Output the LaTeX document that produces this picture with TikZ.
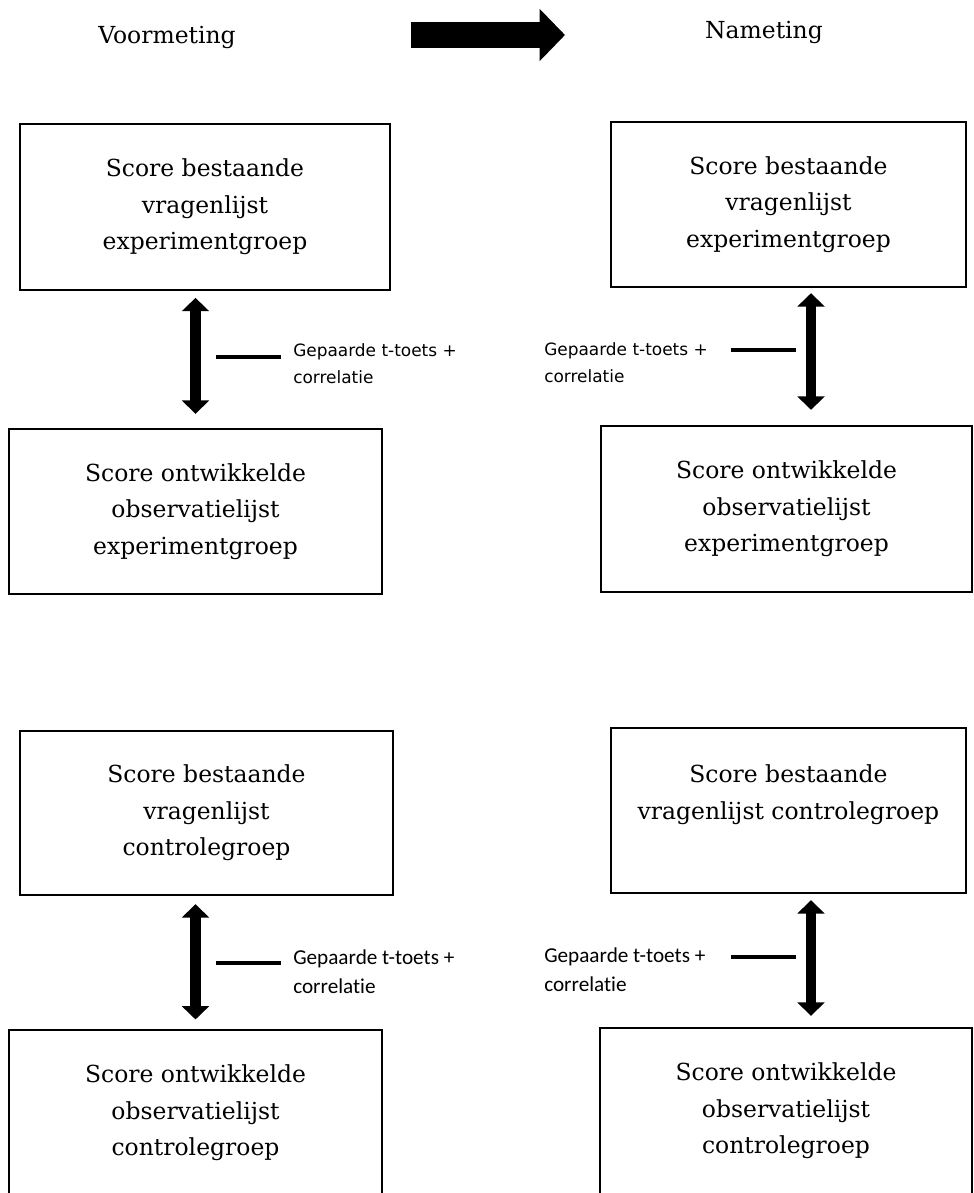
\documentclass[tikz,border=0pt]{standalone}
\usepackage{fontspec}
\setmainfont{DejaVu Serif}
\newfontfamily\toplabfont{DejaVu Sans}
\newfontfamily\botlabfont[Ligatures=NoCommon]{Carlito}
\usetikzlibrary{arrows.meta}

\begin{document}
\begin{tikzpicture}[
  x=0.75pt, y=-0.75pt,
  box/.style={rectangle, draw, line width=1.8pt, align=center, inner sep=0pt, font=\fontsize{17.6}{27.4}\selectfont},
  head/.style={font=\fontsize{17.6}{27.4}\selectfont},
  toplab/.style={anchor=west, align=left, inner sep=0pt, font=\toplabfont\fontsize{12.7}{20}\selectfont},
  botlab/.style={anchor=west, align=left, inner sep=0pt, font=\botlabfont\fontsize{15.9}{21.8}\selectfont},
  dblarrow/.style={{Triangle[width=20pt,length=10pt]}-{Triangle[width=20pt,length=10pt]}, line width=8pt},
  bigarrow/.style={-{Triangle[width=38pt,length=19pt]}, line width=19pt},
  stub/.style={line width=3pt}
]
\useasboundingbox (0,0) rectangle (974,1193);
\clip (0,0) rectangle (974,1193);

% Header
\node[head] (voor) at (167,37) {Voormeting};
\node[head] (na) at (764,32) {Nameting};
\coordinate (pijlA) at (411,35);
\coordinate (pijlB) at (565,35);
\draw[bigarrow] (pijlA) -- (pijlB);

% Experimentgroep boxes
\node[box, minimum width=277.5pt, minimum height=124.5pt] (vExpV) at (205,207) {Score bestaande\\vragenlijst\\experimentgroep};
\node[box, minimum width=266.25pt, minimum height=123.75pt] (nExpV) at (788.5,204.5) {Score bestaande\\vragenlijst\\experimentgroep};
\node[box, minimum width=279.75pt, minimum height=123.75pt] (vExpO) at (195.5,511.5) {Score ontwikkelde\\observatielijst\\experimentgroep};
\node[box, minimum width=278.25pt, minimum height=124.5pt] (nExpO) at (786.5,509) {Score ontwikkelde\\observatielijst\\experimentgroep};

% Controlegroep boxes
\node[box, minimum width=279.75pt, minimum height=123pt] (vConV) at (206.5,813) {Score bestaande\\vragenlijst\\controlegroep};
\node[box, minimum width=266.25pt, minimum height=123.75pt] (nConV) at (788.5,810.5) {Score bestaande\\vragenlijst controlegroep\\\mbox{}};
\node[box, minimum width=279.75pt, minimum height=124.5pt] (vConO) at (195.5,1113) {Score ontwikkelde\\observatielijst\\controlegroep};
\node[box, minimum width=279pt, minimum height=124.5pt] (nConO) at (786,1111) {Score ontwikkelde\\observatielijst\\controlegroep};

% Double arrows
\coordinate (rTop) at ([xshift=18.4pt]nExpO.north);
\coordinate (rBot) at ([xshift=18.75pt]nConO.north);
\draw[dblarrow, shorten <=5pt, shorten >=10.5pt] (vExpO.north |- vExpV.south) -- (vExpO.north);
\draw[dblarrow, shorten <=3.75pt, shorten >=11.25pt] (rTop |- nExpV.south) -- (rTop);
\draw[dblarrow, shorten <=6pt, shorten >=7pt] (vConO.north |- vConV.south) -- (vConO.north);
\draw[dblarrow, shorten <=4.5pt, shorten >=8.25pt] (rBot |- nConV.south) -- (rBot);

% Test labels
\node[toplab] (tA) at (293,364) {Gepaarde t-toets +\\correlatie};
\node[toplab] (tB) at (544,363) {Gepaarde t-toets +\\correlatie};
\node[botlab] (bA) at (293,972) {Gepaarde t-toets +\\correlatie};
\node[botlab] (bB) at (544,970) {Gepaarde t-toets +\\correlatie};
\draw[stub] ([shift={(-12,-7)}]tA.west) -- ++(-65,0);
\draw[stub] ([shift={(187,-13)}]tB.west) -- ++(65,0);
\draw[stub] ([shift={(-12,-9)}]bA.west) -- ++(-65,0);
\draw[stub] ([shift={(187,-13)}]bB.west) -- ++(65,0);

\end{tikzpicture}
\end{document}
